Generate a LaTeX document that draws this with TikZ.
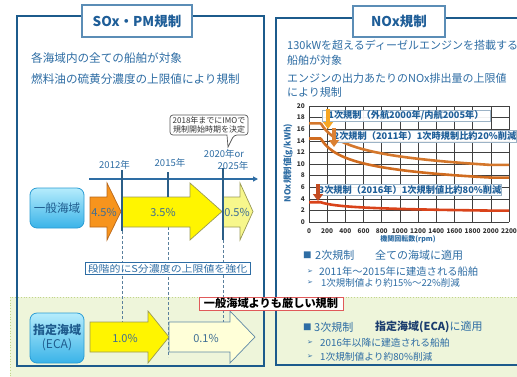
\documentclass[tikz,border=0pt]{standalone}
\usepackage{fontspec}
\setmainfont{Noto Sans CJK JP}
\newfontfamily\symfont{DejaVu Sans}
\usetikzlibrary{arrows.meta}
\definecolor{panelblue}{HTML}{1C5B8C}
\definecolor{titleborder}{HTML}{5B8DB6}
\definecolor{titletext}{HTML}{1F5E98}
\definecolor{txtblue}{HTML}{2E6DA4}
\definecolor{greenfill}{HTML}{EEF5DA}
\definecolor{greenline}{HTML}{C2D48A}
\definecolor{orangearr}{HTML}{F7941D}
\definecolor{orangeedge}{HTML}{B8661A}
\definecolor{yellowarr}{HTML}{FFF500}
\definecolor{yellowedge}{HTML}{9A9A55}
\definecolor{lightyellow}{HTML}{F7F78C}
\definecolor{paleyellow}{HTML}{FFFFD8}
\definecolor{paleedge}{HTML}{5F88A6}
\definecolor{cyantop}{HTML}{B5ECFC}
\definecolor{cyanbot}{HTML}{3AB3E8}
\definecolor{cyanedge}{HTML}{2A9CD4}
\definecolor{seatext}{HTML}{1F5C8E}
\definecolor{tickblue}{HTML}{2B5E87}
\definecolor{dashblue}{HTML}{5A7F9C}
\definecolor{rededge}{HTML}{E05A5A}
\definecolor{tierone}{HTML}{D4772C}
\definecolor{tiertwo}{HTML}{D06C20}
\definecolor{tierthree}{HTML}{D9431A}
\definecolor{arrone}{HTML}{F6A623}
\definecolor{arrtwo}{HTML}{DB8133}
\definecolor{arrthree}{HTML}{C24B22}
\definecolor{lblborder}{HTML}{9CB3C6}
\definecolor{lbltext}{HTML}{1F5F99}
\definecolor{navy}{HTML}{1B3D6E}
\definecolor{pcttext}{HTML}{3F6E94}
\definecolor{ticktext}{HTML}{333333}
\begin{document}
\begin{tikzpicture}[x=1pt,y=-1pt,
  panel/.style={draw=panelblue,line width=2.6pt},
  titlebox/.style={draw=titleborder,line width=1.3pt,fill=white,text=titletext,font=\bfseries\fontsize{13.5}{14}\selectfont,inner sep=0pt},
  bodytxt/.style={text=txtblue,anchor=west,inner sep=0pt},
  yearlbl/.style={text=txtblue,font=\fontsize{9.5}{10}\selectfont,inner sep=0pt},
  axisline/.style={draw=txtblue,line width=1.2pt,-{Triangle[width=5pt,length=5pt]}},
  solidtick/.style={draw=tickblue,line width=1.2pt},
  dashtick/.style={draw=dashblue,line width=0.8pt,dash pattern=on 3pt off 2pt},
  seabox/.style={rounded corners=7pt,draw=cyanedge,line width=0.8pt,top color=cyantop,bottom color=cyanbot,text=seatext,inner sep=0pt,minimum width=54pt,minimum height=40pt,align=center},
  pct/.style={text=pcttext,font=\fontsize{11}{12}\selectfont,inner sep=0pt},
  arrowshape/.style={line width=0.7pt,line join=miter},
  gridline/.style={draw=black!75,line width=0.55pt},
  ticklbl/.style={text=ticktext,font=\bfseries\fontsize{6.5}{7}\selectfont,inner sep=0pt},
  curve/.style={line width=2.6pt,line join=round},
  chartlbl/.style={draw=lblborder,line width=1pt,fill=white,fill opacity=0.92,text opacity=1,text=lbltext,font=\bfseries\fontsize{9.2}{10}\selectfont,inner sep=0pt},
  chartarr/.style={line width=4.5pt,-{Triangle[width=10pt,length=7pt]}},
  bullet/.style={text=txtblue,anchor=west,inner sep=0pt,font=\fontsize{8.5}{9}\selectfont},
  tri/.style={text=txtblue,anchor=west,inner sep=0pt,font=\symfont\fontsize{7}{8}\selectfont}
]
\clip (0,0) rectangle (517,376);
\fill[white] (0,0) rectangle (517,376);
% green zone
\draw[fill=greenfill,draw=greenline,dotted,line width=0.8pt] (10,297) rectangle (540,400);
% panels
\draw[panel] (17,16) rectangle (264,366);
\draw[panel] (276,18) rectangle (540,365);
% titles
\node[titlebox,minimum width=110pt,minimum height=32pt] (soxtitle) at (137,21) {SOx・PM規制};
\node[titlebox,minimum width=92pt,minimum height=31pt] (noxtitle) at (399,21.5) {NOx規制};
% left texts
\node[bodytxt,font=\fontsize{11.6}{12}\selectfont] (ltexta) at (31,58) {各海域内の全ての船舶が対象};
\node[bodytxt,font=\fontsize{11.6}{12}\selectfont] (ltextb) at (31,79) {燃料油の硫黄分濃度の上限値により規制};
% callout
\draw[fill=white,draw=black!65,line width=0.7pt] (170,125) [rounded corners=3pt] -- (170,115) -- (248,115) -- (248,135) -- (234,135) [sharp corners] -- (228,147) -- (227,135) [rounded corners=3pt] -- (170,135) -- cycle;
\node[font=\fontsize{8}{9}\selectfont,text=black!80,align=center,inner sep=0pt] (callout) at (209,125) {2018年までにIMOで\\規制開始時期を決定};
% years
\node[yearlbl] (yA) at (114.5,165) {2012年};
\node[yearlbl] (yB) at (170,163) {2015年};
\node[yearlbl] (yC) at (224,154) {2020年or};
\node[yearlbl] (yD) at (233,166) {2025年};
% timeline axis
\coordinate (axstart) at (89,179);
\coordinate (axend) at (258,179);
\draw[axisline] (axstart) -- (axend);
% dashed guides
\coordinate (daA) at (122,231); \coordinate (dbA) at (122,325);
\coordinate (daB) at (168,227); \coordinate (dbB) at (168,357);
\coordinate (daC) at (223,240); \coordinate (dbC) at (223,322);
\draw[dashtick] (daA) -- (dbA);
\draw[dashtick] (daB) -- (dbB);
\draw[dashtick] (daC) -- (dbC);
% upper arrows
\draw[arrowshape,fill=orangearr,draw=orangeedge] (90,197) -- (107,197) -- (107,183) -- (121,211.5) -- (107,240) -- (107,227) -- (90,227) -- cycle;
\draw[arrowshape,fill=yellowarr,draw=yellowedge] (122,197) -- (190,197) -- (190,183) -- (222,211.5) -- (190,240) -- (190,227) -- (122,227) -- cycle;
\draw[arrowshape,fill=lightyellow,draw=yellowedge] (223,197) -- (240,197) -- (240,183) -- (253,211.5) -- (240,240) -- (240,227) -- (223,227) -- cycle;
\node[pct] (pA) at (104,212) {4.5\%};
\node[pct] (pB) at (163,212) {3.5\%};
\node[pct] (pC) at (237,212) {0.5\%};
% solid ticks
\coordinate (saA) at (122,170); \coordinate (sbA) at (122,231);
\coordinate (saB) at (168,172); \coordinate (sbB) at (168,197);
\coordinate (saC) at (223,168); \coordinate (sbC) at (223,240);
\draw[solidtick] (saA) -- (sbA);
\draw[solidtick] (saB) -- (sbB);
\draw[solidtick] (saC) -- (sbC);
% sea boxes
\node[seabox,font=\fontsize{11.6}{12}\selectfont] (general) at (57,208) {一般海域};
\node[seabox,minimum height=50pt,font=\fontsize{12}{14}\selectfont] (eca) at (57,338) {\textbf{指定海域}\\(ECA)};
% stage box
\node[draw=txtblue,fill=white,line width=0.8pt,inner sep=0pt,minimum width=165pt,minimum height=12pt,text=txtblue,font=\fontsize{9.5}{10}\selectfont] (stage) at (167.5,268.5) {\scalebox{1.15}[1]{段階的にS分濃度の上限値を強化}};
% lower arrows
\draw[arrowshape,fill=yellowarr,draw=yellowedge] (90,322) -- (148,322) -- (148,311) -- (169,337) -- (148,363) -- (148,352) -- (90,352) -- cycle;
\draw[arrowshape,fill=paleyellow,draw=paleedge] (169,322) -- (230,322) -- (230,311) -- (255,337) -- (230,363) -- (230,352) -- (169,352) -- cycle;
\node[pct] (pD) at (125,338) {1.0\%};
\node[pct] (pE) at (206,338) {0.1\%};
% strict label
\node[draw=rededge,fill=white,line width=0.9pt,inner sep=0pt,minimum width=144pt,minimum height=13pt,font=\bfseries\fontsize{11.2}{12}\selectfont] (strict) at (271,303.5) {一般海域よりも厳しい規制};
% right texts
\node[bodytxt,font=\fontsize{11}{12}\selectfont] (rtexta) at (287,45) {130kWを超えるディーゼルエンジンを搭載する};
\node[bodytxt,font=\fontsize{11}{12}\selectfont] (rtextb) at (287,60) {船舶が対象};
\node[bodytxt,font=\fontsize{11}{12}\selectfont] (rtextc) at (287,78) {エンジンの出力あたりのNOx排出量の上限値};
\node[bodytxt,font=\fontsize{11}{12}\selectfont] (rtextd) at (287,92) {により規制};
% chart grid
\foreach \i in {0,...,11} \draw[gridline] ({309+\i*200/11},106) -- ({309+\i*200/11},222);
\foreach \j in {0,...,10} \draw[gridline] (309,{222-\j*11.6}) -- (509,{222-\j*11.6});
\foreach \j [evaluate=\j as \v using int(2*\j)] in {0,...,10} \node[ticklbl,anchor=east] (yl\j) at (305,{222-\j*11.6}) {\v};
\foreach \i [evaluate=\i as \v using int(200*\i)] in {0,...,11} \node[ticklbl] (xl\i) at ({309+\i*200/11},231) {\v};
\node[text=txtblue,font=\bfseries\fontsize{7}{8}\selectfont,inner sep=0pt] (xtitle) at (408,239) {機関回転数(rpm)};
\node[rotate=90,text=txtblue,font=\bfseries\fontsize{8.5}{9}\selectfont,inner sep=0pt] (ytitle) at (288,163) {NOx規制値(g/kWh)};
% curves
\draw[curve,draw=tierone] (309,{222-5.8*17.0}) -- ({309+130/11},{222-5.8*17.0}) -- plot[domain=130:2000,samples=60] ({309+\x/11},{222-5.8*45*exp(-0.2*ln(\x))}) -- (509,{222-5.8*9.84});
\draw[curve,draw=tiertwo] (309,{222-5.8*14.4}) -- ({309+130/11},{222-5.8*14.4}) -- plot[domain=130:2000,samples=60] ({309+\x/11},{222-5.8*44*exp(-0.23*ln(\x))}) -- (509,{222-5.8*7.66});
\draw[curve,draw=tierthree] (309,{222-5.8*3.4}) -- ({309+130/11},{222-5.8*3.4}) -- plot[domain=130:2000,samples=60] ({309+\x/11},{222-5.8*9*exp(-0.2*ln(\x))}) -- (509,{222-5.8*1.97});
% chart labels
\node[chartlbl,minimum width=168pt,minimum height=11pt] (cA) at (406,115.5) {1次規制（外航2000年/内航2005年）};
\node[chartlbl,minimum width=180pt,minimum height=12pt] (cB) at (425,136) {2次規制（2011年）1次時規制比約20\%削減};
\node[chartlbl,minimum width=180pt,minimum height=11pt] (cC) at (410,190) {3次規制（2016年）1次規制値比約80\%削減};
% chart arrows
\coordinate (caS) at (328,109); \coordinate (caE) at (328,129);
\coordinate (cbS) at (334,128); \coordinate (cbE) at (334,147);
\coordinate (ccS) at (318,184); \coordinate (ccE) at (318,201);
\draw[chartarr,draw=arrone,fill=arrone] (caS) -- (caE);
\draw[chartarr,draw=arrtwo,fill=arrtwo] (cbS) -- (cbE);
\draw[chartarr,draw=arrthree,fill=arrthree] (ccS) -- (ccE);
% bullets
\node[bullet] (bsqA) at (303,255) {■};
\node[bodytxt,font=\fontsize{11}{12}\selectfont] (bhA) at (315,255) {2次規制};
\node[bodytxt,font=\fontsize{11}{12}\selectfont] (bhB) at (375,255) {全ての海域に適用};
\node[tri] (trA) at (307,272) {➢};
\node[bodytxt,font=\fontsize{10.3}{11}\selectfont] (btA) at (319,272) {2011年～2015年に建造される船舶};
\node[tri] (trB) at (307,283) {➢};
\node[bodytxt,font=\fontsize{9.5}{10}\selectfont] (btB) at (321,283) {1次規制値より約15\%～22\%削減};
\node[bullet] (bsqB) at (303,327) {■};
\node[bodytxt,font=\fontsize{11}{12}\selectfont] (bhC) at (314,327) {3次規制};
\node[bodytxt,font=\fontsize{11}{12}\selectfont] (bhD) at (375,327) {\textcolor{navy}{\textbf{指定海域(ECA)}}に適用};
\node[tri] (trC) at (307,343) {➢};
\node[bodytxt,font=\fontsize{9.8}{10}\selectfont] (btC) at (320,343) {2016年以降に建造される船舶};
\node[tri] (trD) at (307,357) {➢};
\node[bodytxt,font=\fontsize{9.7}{10}\selectfont] (btD) at (320,357) {1次規制値より約80\%削減};
\end{tikzpicture}
\end{document}
